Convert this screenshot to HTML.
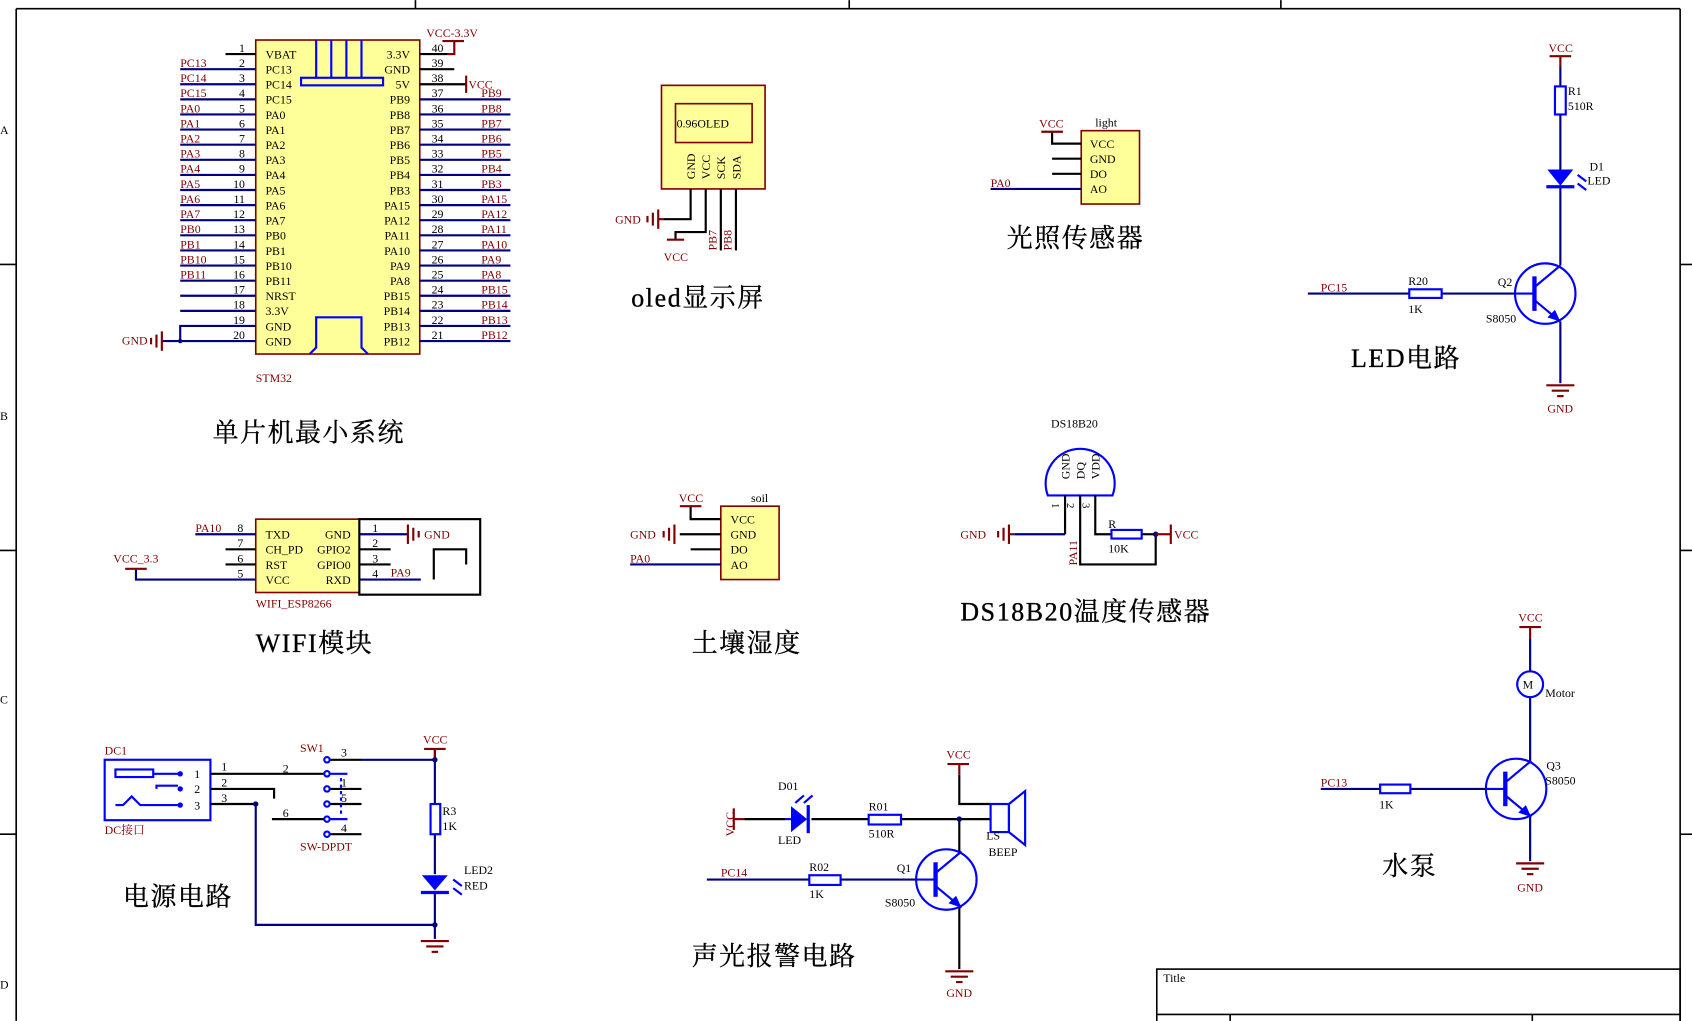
<!DOCTYPE html>
<html><head><meta charset="utf-8"><style>
html,body{margin:0;padding:0;background:#fff;}
svg{display:block;}
text{font-family:"Liberation Serif","Noto Serif CJK SC",serif;}
.l{fill:#800000;font-size:11px;}
.k{fill:#000;font-size:11px;}
.t{fill:#000;font-size:24px;font-family:"Liberation Serif","Noto Serif CJK SC",serif;letter-spacing:1.5px;stroke:#000;stroke-width:0.3;}
.w{stroke:#000080;stroke-width:2;fill:none;}
.p{stroke:#000;stroke-width:2;fill:none;}
.c{stroke:#0000ff;stroke-width:2;fill:none;}
.r{stroke:#800000;stroke-width:2;fill:none;}
</style></head><body>
<svg width="1692" height="1021" viewBox="0 0 1568 946" xmlns="http://www.w3.org/2000/svg">
<defs>
<g id="gnd"><line x1="-13" y1="0" x2="13" y2="0" class="r"/><line x1="-8" y1="5" x2="8" y2="5" class="r"/><line x1="-3" y1="10" x2="3" y2="10" class="r"/></g>
<g id="q"><circle cx="0" cy="0" r="28" class="c"/><line x1="-10" y1="-16" x2="-10" y2="16" stroke="#0000ff" stroke-width="4"/><line x1="-28" y1="0" x2="-10" y2="0" class="c"/><line x1="-10" y1="-6" x2="14" y2="-26" class="c"/><line x1="-10" y1="6" x2="14" y2="26" class="c"/><polygon points="14,26 2,22 9,15" fill="#0000ff"/></g>
</defs>
<rect width="1568" height="946" fill="#fff"/>
<!-- frame -->
<g stroke="#000" stroke-width="1.5" fill="none">
<line x1="15" y1="8" x2="1557" y2="8"/><line x1="15" y1="8" x2="15" y2="946"/><line x1="1557" y1="8" x2="1557" y2="946"/>
<line x1="385" y1="0" x2="385" y2="8"/><line x1="787" y1="0" x2="787" y2="8"/><line x1="1187" y1="0" x2="1187" y2="8"/>
<line x1="0" y1="245" x2="15" y2="245"/><line x1="0" y1="510" x2="15" y2="510"/><line x1="0" y1="773" x2="15" y2="773"/>
<line x1="1557" y1="245" x2="1568" y2="245"/><line x1="1557" y1="510" x2="1568" y2="510"/><line x1="1557" y1="773" x2="1568" y2="773"/>
<rect x="1072" y="898" width="485" height="60"/><line x1="1072" y1="940" x2="1557" y2="940"/><line x1="1140" y1="940" x2="1140" y2="946"/><line x1="1420" y1="940" x2="1420" y2="946"/>
</g>
<text x="0" y="124" class="k" font-size="9">A</text><text x="0" y="389" class="k" font-size="9">B</text><text x="0" y="652" class="k" font-size="9">C</text><text x="0" y="916" class="k" font-size="9">D</text>
<text x="1078" y="910" class="k">Title</text>

<!-- STM32 -->
<rect x="237" y="37" width="152" height="291" fill="#ffff99" stroke="#800000" stroke-width="1.5"/>
<g class="c"><line x1="293" y1="37" x2="293" y2="72"/><line x1="307" y1="37" x2="307" y2="72"/><line x1="321" y1="37" x2="321" y2="72"/><line x1="335" y1="37" x2="335" y2="72"/><rect x="279" y="72" width="76" height="7"/>
<polyline points="287,328 293,322 293,294 335,294 335,322 341,328"/></g>
<g class="p">
<line x1="209" y1="50" x2="237" y2="50"/>
<line x1="389" y1="50" x2="415" y2="50"/><line x1="389" y1="64" x2="421" y2="64"/><line x1="389" y1="78" x2="432" y2="78"/>
</g>
<g class="w">
<line x1="167" y1="64" x2="237" y2="64"/><line x1="167" y1="78" x2="237" y2="78"/><line x1="167" y1="92" x2="237" y2="92"/><line x1="167" y1="106" x2="237" y2="106"/><line x1="167" y1="120" x2="237" y2="120"/><line x1="167" y1="134" x2="237" y2="134"/><line x1="167" y1="148" x2="237" y2="148"/><line x1="167" y1="162" x2="237" y2="162"/><line x1="167" y1="176" x2="237" y2="176"/><line x1="167" y1="190" x2="237" y2="190"/><line x1="167" y1="204" x2="237" y2="204"/><line x1="167" y1="218" x2="237" y2="218"/><line x1="167" y1="232" x2="237" y2="232"/><line x1="167" y1="246" x2="237" y2="246"/><line x1="167" y1="260" x2="237" y2="260"/><line x1="167" y1="274" x2="237" y2="274"/><line x1="167" y1="288" x2="237" y2="288"/>
<polyline points="237,302 167,302 167,316 237,316"/><line x1="150" y1="316" x2="167" y2="316"/>
<line x1="389" y1="92" x2="473" y2="92"/><line x1="389" y1="106" x2="473" y2="106"/><line x1="389" y1="120" x2="473" y2="120"/><line x1="389" y1="134" x2="473" y2="134"/><line x1="389" y1="148" x2="473" y2="148"/><line x1="389" y1="162" x2="473" y2="162"/><line x1="389" y1="176" x2="473" y2="176"/><line x1="389" y1="190" x2="473" y2="190"/><line x1="389" y1="204" x2="473" y2="204"/><line x1="389" y1="218" x2="473" y2="218"/><line x1="389" y1="232" x2="473" y2="232"/><line x1="389" y1="246" x2="473" y2="246"/><line x1="389" y1="260" x2="473" y2="260"/><line x1="389" y1="274" x2="473" y2="274"/><line x1="389" y1="288" x2="473" y2="288"/><line x1="389" y1="302" x2="473" y2="302"/><line x1="389" y1="316" x2="473" y2="316"/>
</g>
<circle cx="167" cy="316" r="2" fill="#000080"/>
<g class="r"><line x1="150" y1="307" x2="150" y2="325"/><line x1="145" y1="310" x2="145" y2="322"/><line x1="140" y1="313" x2="140" y2="319"/>
<polyline points="415,50 421,50 421,38 425,38"/><line x1="410" y1="38" x2="430" y2="38"/>
<line x1="432" y1="70" x2="432" y2="86"/></g>
<text x="113" y="319" class="l">GND</text>
<text x="395" y="34" class="l">VCC-3.3V</text><text x="434" y="82" class="l">VCC</text>
<g class="l"><text x="167" y="62">PC13</text><text x="167" y="76">PC14</text><text x="167" y="90">PC15</text><text x="167" y="104">PA0</text><text x="167" y="118">PA1</text><text x="167" y="132">PA2</text><text x="167" y="146">PA3</text><text x="167" y="160">PA4</text><text x="167" y="174">PA5</text><text x="167" y="188">PA6</text><text x="167" y="202">PA7</text><text x="167" y="216">PB0</text><text x="167" y="230">PB1</text><text x="167" y="244">PB10</text><text x="167" y="258">PB11</text>
<text x="446" y="90">PB9</text><text x="446" y="104">PB8</text><text x="446" y="118">PB7</text><text x="446" y="132">PB6</text><text x="446" y="146">PB5</text><text x="446" y="160">PB4</text><text x="446" y="174">PB3</text><text x="446" y="188">PA15</text><text x="446" y="202">PA12</text><text x="446" y="216">PA11</text><text x="446" y="230">PA10</text><text x="446" y="244">PA9</text><text x="446" y="258">PA8</text><text x="446" y="272">PB15</text><text x="446" y="286">PB14</text><text x="446" y="300">PB13</text><text x="446" y="314">PB12</text></g>
<g class="k" text-anchor="end"><text x="227" y="48">1</text><text x="227" y="62">2</text><text x="227" y="76">3</text><text x="227" y="90">4</text><text x="227" y="104">5</text><text x="227" y="118">6</text><text x="227" y="132">7</text><text x="227" y="146">8</text><text x="227" y="160">9</text><text x="227" y="174">10</text><text x="227" y="188">11</text><text x="227" y="202">12</text><text x="227" y="216">13</text><text x="227" y="230">14</text><text x="227" y="244">15</text><text x="227" y="258">16</text><text x="227" y="272">17</text><text x="227" y="286">18</text><text x="227" y="300">19</text><text x="227" y="314">20</text></g>
<g class="k"><text x="246" y="54">VBAT</text><text x="246" y="68">PC13</text><text x="246" y="82">PC14</text><text x="246" y="96">PC15</text><text x="246" y="110">PA0</text><text x="246" y="124">PA1</text><text x="246" y="138">PA2</text><text x="246" y="152">PA3</text><text x="246" y="166">PA4</text><text x="246" y="180">PA5</text><text x="246" y="194">PA6</text><text x="246" y="208">PA7</text><text x="246" y="222">PB0</text><text x="246" y="236">PB1</text><text x="246" y="250">PB10</text><text x="246" y="264">PB11</text><text x="246" y="278">NRST</text><text x="246" y="292">3.3V</text><text x="246" y="306">GND</text><text x="246" y="320">GND</text></g>
<g class="k" text-anchor="end"><text x="380" y="54">3.3V</text><text x="380" y="68">GND</text><text x="380" y="82">5V</text><text x="380" y="96">PB9</text><text x="380" y="110">PB8</text><text x="380" y="124">PB7</text><text x="380" y="138">PB6</text><text x="380" y="152">PB5</text><text x="380" y="166">PB4</text><text x="380" y="180">PB3</text><text x="380" y="194">PA15</text><text x="380" y="208">PA12</text><text x="380" y="222">PA11</text><text x="380" y="236">PA10</text><text x="380" y="250">PA9</text><text x="380" y="264">PA8</text><text x="380" y="278">PB15</text><text x="380" y="292">PB14</text><text x="380" y="306">PB13</text><text x="380" y="320">PB12</text></g>
<g class="k"><text x="400" y="48">40</text><text x="400" y="62">39</text><text x="400" y="76">38</text><text x="400" y="90">37</text><text x="400" y="104">36</text><text x="400" y="118">35</text><text x="400" y="132">34</text><text x="400" y="146">33</text><text x="400" y="160">32</text><text x="400" y="174">31</text><text x="400" y="188">30</text><text x="400" y="202">29</text><text x="400" y="216">28</text><text x="400" y="230">27</text><text x="400" y="244">26</text><text x="400" y="258">25</text><text x="400" y="272">24</text><text x="400" y="286">23</text><text x="400" y="300">22</text><text x="400" y="314">21</text></g>
<text x="237" y="354" class="l">STM32</text>
<text x="197" y="409" class="t">单片机最小系统</text>

<!-- OLED -->
<rect x="613" y="79" width="96" height="96" fill="#ffff99" stroke="#800000" stroke-width="1.5"/>
<rect x="626" y="96" width="71" height="36" fill="none" stroke="#800000" stroke-width="1.5"/>
<text x="627" y="118" class="k">0.96OLED</text>
<g class="k"><text transform="translate(644,166) rotate(-90)">GND</text><text transform="translate(658,166) rotate(-90)">VCC</text><text transform="translate(672,166) rotate(-90)">SCK</text><text transform="translate(686,166) rotate(-90)">SDA</text></g>
<g class="p"><polyline points="640,175 640,203 615,203"/><polyline points="654,175 654,215 626,215 626,222"/><line x1="668" y1="175" x2="668" y2="232"/><line x1="682" y1="175" x2="682" y2="232"/></g>
<g class="r"><line x1="610" y1="194" x2="610" y2="212"/><line x1="605" y1="197" x2="605" y2="209"/><line x1="600" y1="200" x2="600" y2="206"/><line x1="615" y1="203" x2="610" y2="203"/><line x1="618" y1="222" x2="634" y2="222"/></g>
<text x="570" y="207" class="l">GND</text><text x="615" y="242" class="l">VCC</text>
<text transform="translate(664,232) rotate(-90)" class="l">PB7</text><text transform="translate(678,232) rotate(-90)" class="l">PB8</text>
<text x="585" y="284" class="t">oled显示屏</text>

<!-- Light sensor -->
<rect x="1002" y="121" width="54" height="68" fill="#ffff99" stroke="#800000" stroke-width="1.5"/>
<g class="p"><polyline points="975,122 975,133 1002,133"/><line x1="975" y1="147" x2="1002" y2="147"/><line x1="975" y1="161" x2="1002" y2="161"/></g>
<line x1="918" y1="175" x2="1002" y2="175" class="w"/>
<line x1="965" y1="122" x2="985" y2="122" class="r"/>
<text x="963" y="118" class="l">VCC</text><text x="1015" y="117" class="k" font-size="10">light</text>
<text x="918" y="173" class="l">PA0</text>
<g class="k"><text x="1010" y="137">VCC</text><text x="1010" y="151">GND</text><text x="1010" y="165">DO</text><text x="1010" y="179">AO</text></g>
<text x="933" y="229" class="t">光照传感器</text>

<!-- LED circuit -->
<line x1="1436" y1="52" x2="1456" y2="52" class="r"/><line x1="1446" y1="52" x2="1446" y2="62" class="r"/>
<text x="1435" y="48" class="l">VCC</text>
<g class="w"><line x1="1446" y1="62" x2="1446" y2="80"/><line x1="1446" y1="106" x2="1446" y2="157"/><line x1="1446" y1="173" x2="1446" y2="246"/><line x1="1446" y1="298" x2="1446" y2="355"/>
<line x1="1212" y1="272" x2="1306" y2="272"/><line x1="1336" y1="272" x2="1404" y2="272"/></g>
<rect x="1441" y="80" width="10" height="26" class="c"/>
<text x="1453" y="88" class="k">R1</text><text x="1453" y="102" class="k">510R</text>
<polygon points="1434,157 1458,157 1446,172" fill="#0000ff"/><line x1="1433" y1="173" x2="1459" y2="173" stroke="#0000ff" stroke-width="3"/>
<g class="c"><line x1="1462" y1="162" x2="1470" y2="168"/><line x1="1462" y1="170" x2="1470" y2="176"/></g>
<text x="1473" y="158" class="k">D1</text><text x="1471" y="171" class="k">LED</text>
<rect x="1306" y="268" width="30" height="8" class="c"/>
<text x="1305" y="264" class="k">R20</text><text x="1305" y="290" class="k">1K</text>
<text x="1224" y="270" class="l">PC15</text>
<use href="#q" x="1432" y="272"/>
<text x="1388" y="265" class="k">Q2</text><text x="1377" y="299" class="k" font-size="10">S8050</text>
<use href="#gnd" x="1446" y="357"/>
<text x="1434" y="382" class="l">GND</text>
<text x="1252" y="340" class="t">LED电路</text>

<!-- WIFI -->
<rect x="237" y="481" width="96" height="68" fill="#ffff99" stroke="#800000" stroke-width="1.5"/>
<g class="p"><line x1="209" y1="509" x2="237" y2="509"/><line x1="209" y1="523" x2="237" y2="523"/>
<line x1="333" y1="509" x2="362" y2="509"/><line x1="333" y1="523" x2="362" y2="523"/>
<rect x="333" y="481" width="112" height="70"/><polyline points="402,537 402,509 432,509 432,523"/></g>
<g class="w"><line x1="181" y1="495" x2="237" y2="495"/><polyline points="126,527 126,537 237,537"/><line x1="333" y1="495" x2="378" y2="495"/><line x1="333" y1="537" x2="390" y2="537"/></g>
<line x1="116" y1="527" x2="136" y2="527" class="r"/>
<g class="r"><line x1="378" y1="486" x2="378" y2="504"/><line x1="383" y1="489" x2="383" y2="501"/><line x1="388" y1="492" x2="388" y2="498"/></g>
<text x="393" y="499" class="l">GND</text>
<text x="181" y="493" class="l">PA10</text><text x="105" y="521" class="l">VCC_3.3</text><text x="362" y="534" class="l">PA9</text>
<g class="k"><text x="220" y="493">8</text><text x="220" y="507">7</text><text x="220" y="521">6</text><text x="220" y="535">5</text><text x="345" y="493">1</text><text x="345" y="507">2</text><text x="345" y="521">3</text><text x="345" y="535">4</text>
<text x="246" y="499">TXD</text><text x="246" y="513">CH_PD</text><text x="246" y="527">RST</text><text x="246" y="541">VCC</text></g>
<g class="k" text-anchor="end"><text x="325" y="499">GND</text><text x="325" y="513">GPIO2</text><text x="325" y="527">GPIO0</text><text x="325" y="541">RXD</text></g>
<text x="237" y="563" class="l" font-size="10">WIFI_ESP8266</text>
<text x="237" y="604" class="t">WIFI模块</text>

<!-- Soil -->
<rect x="668" y="469" width="54" height="68" fill="#ffff99" stroke="#800000" stroke-width="1.5"/>
<g class="p"><polyline points="640,469 640,481 668,481"/><line x1="630" y1="495" x2="668" y2="495"/><line x1="640" y1="509" x2="668" y2="509"/></g>
<line x1="584" y1="523" x2="668" y2="523" class="w"/>
<g class="r"><line x1="630" y1="469" x2="650" y2="469"/><line x1="625" y1="486" x2="625" y2="504"/><line x1="620" y1="489" x2="620" y2="501"/><line x1="615" y1="492" x2="615" y2="498"/></g>
<text x="629" y="465" class="l">VCC</text><text x="696" y="465" class="k" font-size="10">soil</text>
<text x="584" y="499" class="l">GND</text><text x="584" y="521" class="l">PA0</text>
<g class="k"><text x="677" y="485">VCC</text><text x="677" y="499">GND</text><text x="677" y="513">DO</text><text x="677" y="527">AO</text></g>
<text x="641" y="604" class="t">土壤湿度</text>

<!-- DS18B20 -->
<path d="M971,459 A32,32 0 1 1 1031,459 Z" fill="none" stroke="#0000ff" stroke-width="2"/>
<g class="k"><text transform="translate(991,444) rotate(-90)">GND</text><text transform="translate(1005,444) rotate(-90)">DQ</text><text transform="translate(1019,444) rotate(-90)">VDD</text>
<text transform="translate(975,466) rotate(90)" font-size="10">1</text><text transform="translate(989,466) rotate(90)" font-size="10">2</text><text transform="translate(1003,466) rotate(90)" font-size="10">3</text></g>
<text x="974" y="396" class="k">DS18B20</text>
<g class="p"><polyline points="987,459 987,495"/><polyline points="1001,459 1001,523 1071,523 1071,495"/><polyline points="1015,459 1015,495 1030,495"/><line x1="1058" y1="495" x2="1071" y2="495"/></g>
<line x1="940" y1="495" x2="987" y2="495" class="w"/>
<rect x="1030" y="491" width="28" height="8" class="c"/>
<circle cx="1071" cy="495" r="2.5" fill="#000080"/>
<g class="r"><line x1="1071" y1="495" x2="1085" y2="495"/><line x1="1085" y1="486" x2="1085" y2="504"/>
<line x1="940" y1="495" x2="935" y2="495"/><line x1="935" y1="486" x2="935" y2="504"/><line x1="930" y1="489" x2="930" y2="501"/><line x1="925" y1="492" x2="925" y2="498"/></g>
<text x="1088" y="499" class="l">VCC</text><text x="890" y="499" class="l">GND</text>
<text x="1027" y="489" class="k">R</text><text x="1027" y="512" class="k">10K</text>
<text transform="translate(998,524) rotate(-90)" class="l">PA11</text>
<text x="890" y="575" class="t">DS18B20温度传感器</text>

<!-- Power -->
<rect x="97" y="704" width="98" height="56" fill="none" stroke="#0000ff" stroke-width="2"/>
<rect x="107" y="713" width="35" height="7" class="c"/>
<g class="c"><line x1="142" y1="717" x2="165" y2="717"/><polyline points="145,731 145,728 165,728"/><polyline points="107,746 114,746 122,738 130,746 165,746"/></g>
<g fill="#0000ff"><circle cx="167" cy="717" r="2.5"/><circle cx="167" cy="731" r="2.5"/><circle cx="167" cy="746" r="2.5"/></g>
<g class="k"><text x="180" y="721">1</text><text x="180" y="735">2</text><text x="180" y="750">3</text><text x="205" y="714">1</text><text x="205" y="729">2</text><text x="205" y="743">3</text></g>
<text x="97" y="699" class="l" font-size="10">DC1</text><text x="97" y="773" class="l" font-size="10">DC接口</text>
<g class="p"><line x1="195" y1="717" x2="300" y2="717"/><polyline points="195,731 254,731 254,740"/><line x1="195" y1="745" x2="237" y2="745"/><line x1="252" y1="759" x2="300" y2="759"/><line x1="306" y1="704" x2="335" y2="704"/><line x1="306" y1="731" x2="335" y2="731"/><line x1="306" y1="745" x2="335" y2="745"/><line x1="306" y1="773" x2="335" y2="773"/></g>
<g class="c"><circle cx="303" cy="717" r="2.5"/><circle cx="303" cy="759" r="2.5"/><circle cx="303" cy="704" r="2.5"/><circle cx="303" cy="731" r="2.5"/><circle cx="303" cy="745" r="2.5"/><circle cx="303" cy="773" r="2.5"/>
<line x1="306" y1="717" x2="322" y2="717"/><line x1="306" y1="759" x2="322" y2="759"/><line x1="316" y1="721" x2="316" y2="757" stroke-dasharray="3,3"/></g>
<text x="278" y="697" class="l" font-size="10">SW1</text><text x="278" y="788" class="l" font-size="10">SW-DPDT</text>
<g class="k"><text x="316" y="701">3</text><text x="262" y="716">2</text><text x="316" y="729">1</text><text x="316" y="743">5</text><text x="262" y="757">6</text><text x="316" y="771">4</text></g>
<g class="w"><polyline points="237,745 237,857 403,857"/><line x1="335" y1="704" x2="403" y2="704"/><line x1="403" y1="694" x2="403" y2="745"/><line x1="403" y1="773" x2="403" y2="810"/><line x1="403" y1="826" x2="403" y2="870"/></g>
<g fill="#000080"><circle cx="237" cy="745" r="2.5"/><circle cx="403" cy="704" r="2.5"/><circle cx="403" cy="857" r="2.5"/></g>
<line x1="393" y1="694" x2="413" y2="694" class="r"/><line x1="403" y1="694" x2="403" y2="702" class="r"/>
<text x="392" y="689" class="l">VCC</text>
<rect x="399" y="745" width="9" height="28" class="c"/>
<text x="410" y="755" class="k">R3</text><text x="410" y="769" class="k">1K</text>
<polygon points="391,811 415,811 403,825" fill="#0000ff"/><line x1="390" y1="827" x2="416" y2="827" stroke="#0000ff" stroke-width="3"/>
<g class="c"><line x1="420" y1="815" x2="428" y2="821"/><line x1="420" y1="823" x2="428" y2="829"/></g>
<text x="430" y="810" class="k">LED2</text><text x="430" y="824" class="k">RED</text>
<use href="#gnd" x="403" y="872"/>
<text x="114" y="839" class="t">电源电路</text>

<!-- Alarm -->
<g class="r"><line x1="680" y1="759" x2="690" y2="759"/><line x1="680" y1="749" x2="680" y2="769"/></g>
<text transform="translate(680,775) rotate(-90)" class="l">VCC</text>
<g class="p"><line x1="690" y1="759" x2="728" y2="759"/><line x1="752" y1="759" x2="805" y2="759"/><line x1="835" y1="759" x2="918" y2="759"/><polyline points="889,718 889,745 918,745"/><line x1="889" y1="759" x2="889" y2="790"/><line x1="889" y1="840" x2="889" y2="898"/></g>
<g class="w"><line x1="655" y1="815" x2="750" y2="815"/><line x1="779" y1="815" x2="849" y2="815"/></g>
<polygon points="733,747 733,771 748,759" fill="#0000ff"/><line x1="749" y1="746" x2="749" y2="772" stroke="#0000ff" stroke-width="3"/>
<g class="c"><line x1="737" y1="744" x2="745" y2="737"/><line x1="745" y1="744" x2="753" y2="737"/><line x1="728" y1="759" x2="733" y2="759"/></g>
<text x="721" y="732" class="k">D01</text><text x="721" y="782" class="k">LED</text>
<rect x="805" y="755" width="30" height="9" class="c"/>
<text x="805" y="751" class="k">R01</text><text x="805" y="776" class="k">510R</text>
<rect x="750" y="811" width="29" height="9" class="c"/>
<text x="750" y="807" class="k">R02</text><text x="750" y="832" class="k">1K</text>
<text x="668" y="812" class="l">PC14</text>
<circle cx="889" cy="759" r="2.5" fill="#000080"/>
<line x1="878" y1="708" x2="898" y2="708" class="r"/><line x1="889" y1="708" x2="889" y2="718" class="r"/>
<text x="877" y="703" class="l">VCC</text>
<rect x="918" y="745" width="17" height="26" class="c"/><polygon points="935,745 950,733 950,783 935,771" class="c"/>
<text x="914" y="778" class="k">LS</text><text x="916" y="793" class="k">BEEP</text>
<use href="#q" x="877" y="815"/>
<text x="831" y="808" class="k">Q1</text><text x="820" y="840" class="k" font-size="10">S8050</text>
<use href="#gnd" x="889" y="900"/>
<text x="877" y="924" class="l">GND</text>
<text x="641" y="894" class="t">声光报警电路</text>

<!-- Pump -->
<line x1="1408" y1="581" x2="1428" y2="581" class="r"/><line x1="1418" y1="581" x2="1418" y2="592" class="r"/>
<text x="1407" y="576" class="l">VCC</text>
<g class="w"><line x1="1418" y1="592" x2="1418" y2="622"/><line x1="1418" y1="646" x2="1418" y2="705"/><line x1="1418" y1="757" x2="1418" y2="798"/><line x1="1224" y1="731" x2="1279" y2="731"/><line x1="1307" y1="731" x2="1377" y2="731"/></g>
<circle cx="1418" cy="634" r="12" class="c"/>
<text x="1411" y="638" class="k" font-size="10">M</text><text x="1432" y="646" class="k" font-size="10">Motor</text>
<rect x="1279" y="727" width="28" height="8" class="c"/>
<text x="1278" y="749" class="k">1K</text>
<text x="1224" y="729" class="l">PC13</text>
<use href="#q" x="1405" y="731"/>
<text x="1433" y="713" class="k">Q3</text><text x="1432" y="727" class="k" font-size="10">S8050</text>
<use href="#gnd" x="1418" y="800"/>
<text x="1406" y="826" class="l">GND</text>
<text x="1281" y="811" class="t">水泵</text>
</svg>
</body></html>
